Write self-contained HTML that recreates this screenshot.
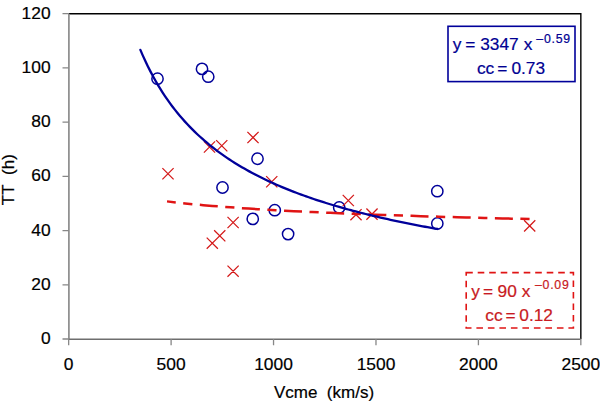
<!DOCTYPE html><html><head><meta charset="utf-8"><style>html,body{margin:0;padding:0;background:#fff;}svg{display:block;font-family:"Liberation Sans",sans-serif;}text{stroke-width:0.2px;}</style></head><body>
<svg width="600" height="402" viewBox="0 0 600 402">
<rect width="600" height="402" fill="#fff"/>
<path d="M68.67 13.68H580.84V339.00" fill="none" stroke="#000" stroke-width="1.4"/>
<path d="M68.9 13.68V339.2" fill="none" stroke="#8c8c8c" stroke-width="1.7"/>
<path d="M68.9 339.2H580.84" fill="none" stroke="#6e6e6e" stroke-width="1.4"/>
<path d="M62.5 339.00H68.67 M62.5 284.78H68.67 M62.5 230.56H68.67 M62.5 176.34H68.67 M62.5 122.12H68.67 M62.5 67.90H68.67 M62.5 13.68H68.67 M68.67 339.00V345.2 M171.11 339.00V345.2 M273.54 339.00V345.2 M375.98 339.00V345.2 M478.41 339.00V345.2 M580.84 339.00V345.2" fill="none" stroke="#878787" stroke-width="1.3"/>
<text x="50.6" y="343.95" font-size="17.4" text-anchor="end" fill="#000" stroke="#000">0</text>
<text x="50.6" y="289.73" font-size="17.4" text-anchor="end" fill="#000" stroke="#000">20</text>
<text x="50.6" y="235.51" font-size="17.4" text-anchor="end" fill="#000" stroke="#000">40</text>
<text x="50.6" y="181.29" font-size="17.4" text-anchor="end" fill="#000" stroke="#000">60</text>
<text x="50.6" y="127.07" font-size="17.4" text-anchor="end" fill="#000" stroke="#000">80</text>
<text x="50.6" y="72.85" font-size="17.4" text-anchor="end" fill="#000" stroke="#000">100</text>
<text x="50.6" y="18.63" font-size="17.4" text-anchor="end" fill="#000" stroke="#000">120</text>
<text x="68.67" y="370.3" font-size="17.4" text-anchor="middle" fill="#000" stroke="#000">0</text>
<text x="171.11" y="370.3" font-size="17.4" text-anchor="middle" fill="#000" stroke="#000">500</text>
<text x="273.54" y="370.3" font-size="17.4" text-anchor="middle" fill="#000" stroke="#000">1000</text>
<text x="375.98" y="370.3" font-size="17.4" text-anchor="middle" fill="#000" stroke="#000">1500</text>
<text x="478.41" y="370.3" font-size="17.4" text-anchor="middle" fill="#000" stroke="#000">2000</text>
<text x="580.84" y="370.3" font-size="17.4" text-anchor="middle" fill="#000" stroke="#000">2500</text>
<text x="324.0" y="398.4" font-size="17" text-anchor="middle" fill="#000" stroke="#000">Vcme&#160; (km/s)</text>
<text transform="translate(14.0 179.7) rotate(-90)" font-size="17" text-anchor="middle" fill="#000" stroke="#000">TT&#160; (h)</text>
<circle cx="157.5" cy="78.7" r="5.65" fill="none" stroke="#00009a" stroke-width="1.5"/>
<circle cx="202" cy="68.9" r="5.65" fill="none" stroke="#00009a" stroke-width="1.5"/>
<circle cx="208.25" cy="76.7" r="5.65" fill="none" stroke="#00009a" stroke-width="1.5"/>
<circle cx="222.5" cy="187.5" r="5.65" fill="none" stroke="#00009a" stroke-width="1.5"/>
<circle cx="257.5" cy="158.75" r="5.65" fill="none" stroke="#00009a" stroke-width="1.5"/>
<circle cx="252.75" cy="218.9" r="5.65" fill="none" stroke="#00009a" stroke-width="1.5"/>
<circle cx="274.75" cy="210.2" r="5.65" fill="none" stroke="#00009a" stroke-width="1.5"/>
<circle cx="288.1" cy="234.1" r="5.65" fill="none" stroke="#00009a" stroke-width="1.5"/>
<circle cx="339.2" cy="207.5" r="5.65" fill="none" stroke="#00009a" stroke-width="1.5"/>
<circle cx="437.3" cy="191.2" r="5.65" fill="none" stroke="#00009a" stroke-width="1.5"/>
<circle cx="437.3" cy="223.5" r="5.65" fill="none" stroke="#00009a" stroke-width="1.5"/>
<path d="M162.40 168.15L173.60 179.35M173.60 168.15L162.40 179.35M203.90 141.40L215.10 152.60M215.10 141.40L203.90 152.60M216.15 140.15L227.35 151.35M227.35 140.15L216.15 151.35M247.40 131.90L258.60 143.10M258.60 131.90L247.40 143.10M266.15 176.15L277.35 187.35M277.35 176.15L266.15 187.35M227.50 216.90L238.70 228.10M238.70 216.90L227.50 228.10M214.15 230.20L225.35 241.40M225.35 230.20L214.15 241.40M206.70 237.60L217.90 248.80M217.90 237.60L206.70 248.80M227.50 265.60L238.70 276.80M238.70 265.60L227.50 276.80M342.70 194.90L353.90 206.10M353.90 194.90L342.70 206.10M350.40 209.10L361.60 220.30M361.60 209.10L350.40 220.30M366.40 208.50L377.60 219.70M377.60 208.50L366.40 219.70M524.10 220.30L535.30 231.50M535.30 220.30L524.10 231.50" fill="none" stroke="#d41818" stroke-width="1.25"/>
<polyline points="167.01,201.37 176.07,202.45 185.14,203.43 194.20,204.33 203.27,205.17 212.34,205.94 221.40,206.66 230.47,207.34 239.53,207.98 248.60,208.58 257.66,209.15 266.73,209.69 275.79,210.21 284.86,210.70 293.92,211.17 302.99,211.62 312.06,212.05 321.12,212.46 330.19,212.86 339.25,213.24 348.32,213.61 357.38,213.96 366.45,214.31 375.51,214.64 384.58,214.96 393.65,215.27 402.71,215.58 411.78,215.87 420.84,216.16 429.91,216.44 438.97,216.71 448.04,216.97 457.10,217.23 466.17,217.48 475.23,217.72 484.30,217.96 493.37,218.19 502.43,218.42 511.50,218.64 520.56,218.86 529.63,219.07" fill="none" stroke="#e01414" stroke-width="2.5" stroke-dasharray="18 7.5 9.2 7.5" stroke-dashoffset="9.2"/>
<polyline points="140.37,49.90 142.85,55.63 145.33,61.07 147.80,66.23 150.28,71.14 152.75,75.83 155.23,80.29 157.70,84.56 160.18,88.65 162.65,92.56 165.13,96.31 167.61,99.91 170.08,103.37 172.56,106.70 175.03,109.91 177.51,112.99 179.98,115.97 182.46,118.85 184.93,121.63 187.41,124.31 189.88,126.91 192.36,129.42 194.84,131.86 197.31,134.22 199.79,136.51 202.26,138.73 204.74,140.89 207.21,142.99 209.69,145.03 212.16,147.01 214.64,148.93 217.12,150.81 219.59,152.64 222.07,154.42 224.54,156.15 227.02,157.85 229.49,159.50 231.97,161.11 234.44,162.68 236.92,164.21 239.39,165.71 241.87,167.18 244.35,168.61 246.82,170.01 249.30,171.38 251.77,172.72 254.25,174.04 256.72,175.32 259.20,176.58 261.67,177.81 264.15,179.02 266.63,180.20 269.10,181.36 271.58,182.50 274.05,183.62 276.53,184.71 279.00,185.78 281.48,186.84 283.95,187.87 286.43,188.89 288.91,189.89 291.38,190.87 293.86,191.83 296.33,192.78 298.81,193.71 301.28,194.62 303.76,195.52 306.23,196.40 308.71,197.27 311.18,198.13 313.66,198.97 316.14,199.80 318.61,200.61 321.09,201.42 323.56,202.21 326.04,202.98 328.51,203.75 330.99,204.50 333.46,205.25 335.94,205.98 338.42,206.70 340.89,207.41 343.37,208.11 345.84,208.80 348.32,209.49 350.79,210.16 353.27,210.82 355.74,211.47 358.22,212.12 360.70,212.75 363.17,213.38 365.65,214.00 368.12,214.61 370.60,215.21 373.07,215.81 375.55,216.39 378.02,216.97 380.50,217.55 382.97,218.11 385.45,218.67 387.93,219.22 390.40,219.77 392.88,220.30 395.35,220.84 397.83,221.36 400.30,221.88 402.78,222.39 405.25,222.90 407.73,223.40 410.21,223.90 412.68,224.39 415.16,224.87 417.63,225.35 420.11,225.82 422.58,226.29 425.06,226.75 427.53,227.21 430.01,227.66 432.48,228.11 434.96,228.55 437.44,228.99" fill="none" stroke="#00009a" stroke-width="2.3" stroke-linejoin="round" stroke-linecap="round"/>
<rect x="448" y="26.3" width="127" height="55.3" fill="#fff" stroke="#00009a" stroke-width="1.6"/>
<text x="452.86" y="49.7" font-size="17.3" fill="#000092" stroke="#000092">y</text>
<text x="465.16" y="49.7" font-size="17.3" fill="#000092" stroke="#000092">=</text>
<text x="480.24" y="49.7" font-size="17.3" fill="#000092" stroke="#000092">3347</text>
<text x="523.81" y="49.7" font-size="17.3" fill="#000092" stroke="#000092">x</text>
<text x="536.30" y="42.6" font-size="12.3" fill="#000092" stroke="#000092" letter-spacing="0.75">–0.59</text>
<text x="476.97" y="74.0" font-size="17.3" fill="#000092" stroke="#000092">cc</text>
<text x="497.16" y="74.0" font-size="17.3" fill="#000092" stroke="#000092">=</text>
<text x="511.42" y="74.0" font-size="17.3" fill="#000092" stroke="#000092">0.73</text>
<rect x="466.2" y="272.6" width="107.2" height="55.4" fill="#fff" stroke="#e01414" stroke-width="1.6" stroke-dasharray="6.6 4.9"/>
<text x="471.26" y="296.5" font-size="17.3" fill="#c81a22" stroke="#c81a22">y</text>
<text x="483.06" y="296.5" font-size="17.3" fill="#c81a22" stroke="#c81a22">=</text>
<text x="497.59" y="296.5" font-size="17.3" fill="#c81a22" stroke="#c81a22">90</text>
<text x="521.81" y="296.5" font-size="17.3" fill="#c81a22" stroke="#c81a22">x</text>
<text x="535.00" y="289.0" font-size="12.3" fill="#c81a22" stroke="#c81a22" letter-spacing="0.75">–0.09</text>
<text x="485.27" y="320.8" font-size="17.3" fill="#c81a22" stroke="#c81a22">cc</text>
<text x="505.46" y="320.8" font-size="17.3" fill="#c81a22" stroke="#c81a22">=</text>
<text x="519.32" y="320.8" font-size="17.3" fill="#c81a22" stroke="#c81a22">0.12</text>
</svg></body></html>
